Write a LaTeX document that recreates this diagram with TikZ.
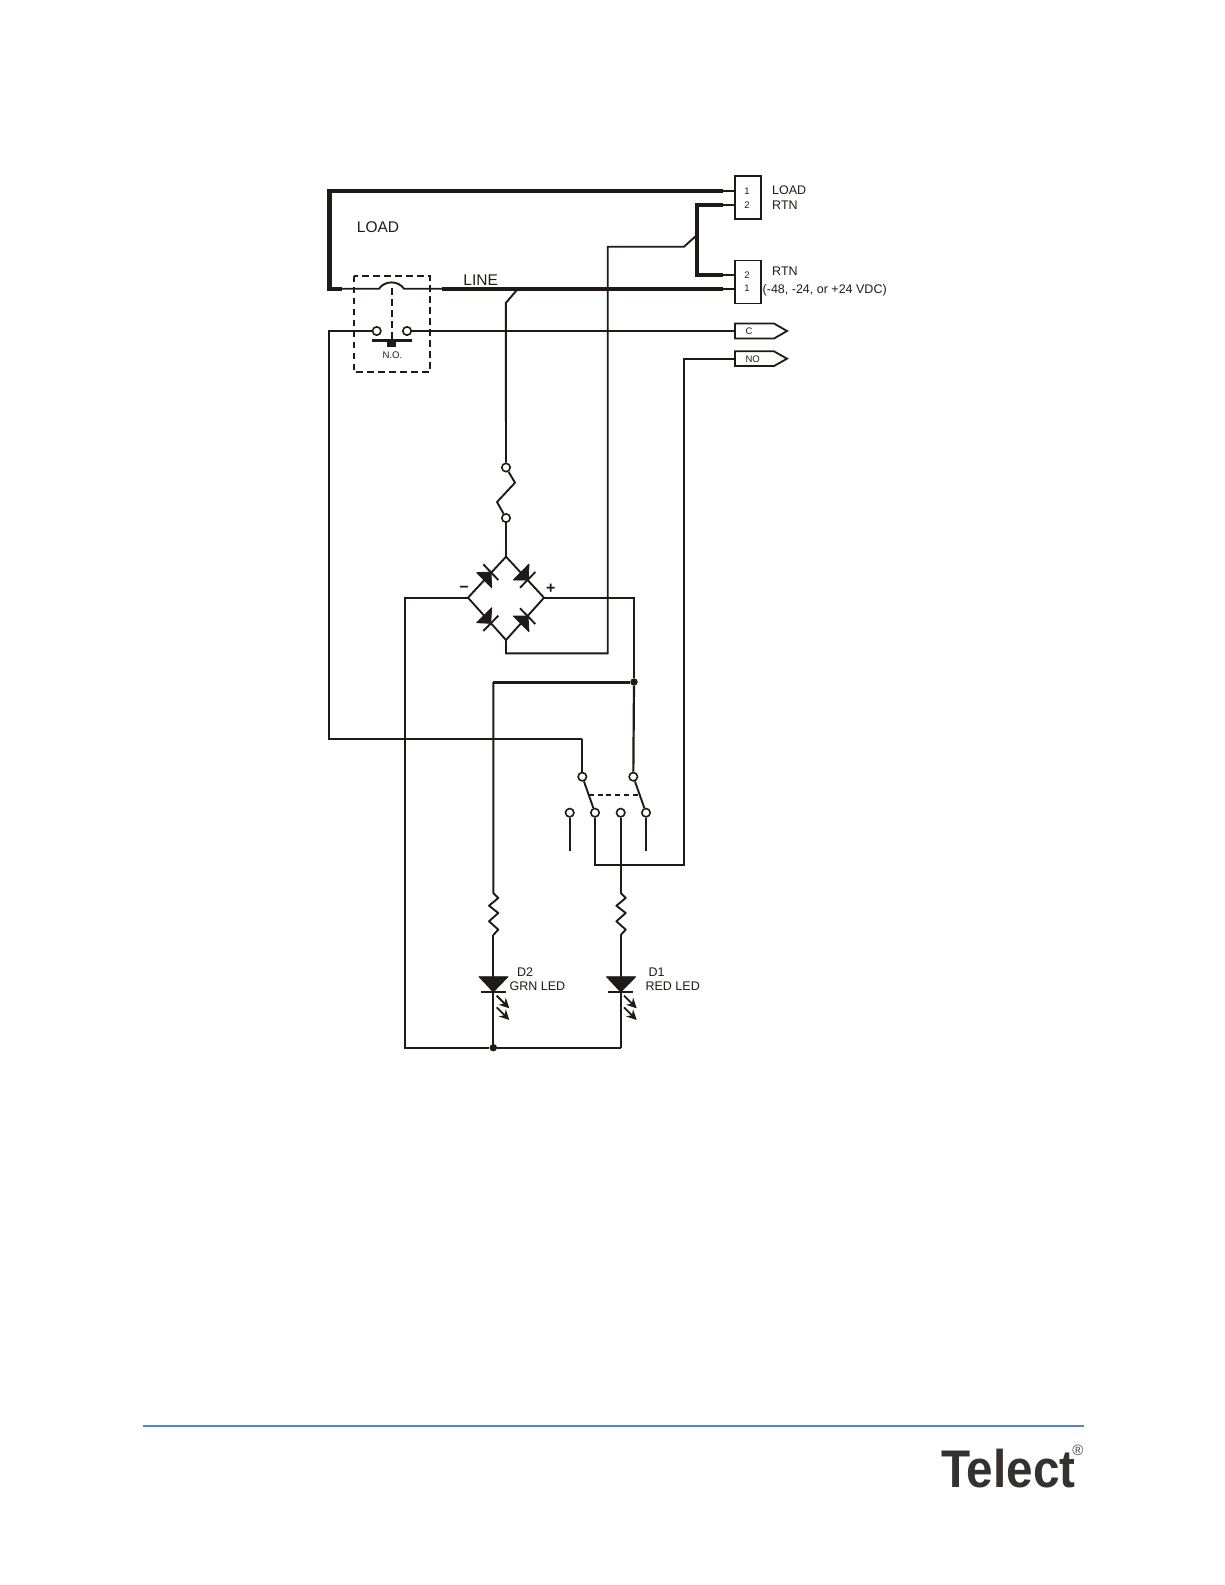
\documentclass[tikz,border=0pt]{standalone}
\usepackage{fontspec}
\setmainfont{Liberation Sans}
\usetikzlibrary{arrows.meta,calc}
\definecolor{ink}{HTML}{1F1A17}
\definecolor{rule}{HTML}{5B82C4}
\tikzset{
  wire/.style={draw=ink,line width=1.9pt,line join=miter},
  midwire/.style={draw=ink,line width=2.2pt,line join=miter},
  heavy/.style={draw=ink,line width=4.4pt,line join=miter},
  heavier/.style={draw=ink,line width=3pt},
  terminal/.style={circle,draw=ink,line width=1.6pt,fill=white,minimum size=8.4pt,inner sep=0pt},
  txt/.style={text=ink,inner sep=0pt,font=\fontsize{12.5}{14}\selectfont},
  big/.style={text=ink,inner sep=0pt,font=\fontsize{15.5}{18}\selectfont},
  tiny/.style={text=ink,inner sep=0pt,font=\fontsize{9.5}{11}\selectfont},
  conn/.style={draw=ink,line width=1.8pt,fill=white,minimum width=26pt,minimum height=43pt,inner sep=0pt},
  dashbox/.style={draw=ink,line width=1.7pt,dash pattern=on 6.5pt off 4.5pt},
  dot/.style={circle,fill=ink,minimum size=7.5pt,inner sep=0pt},
  diode/.style={fill=ink,draw=ink,line width=.8pt,line join=round},
  ledarrow/.style={draw=ink,line width=1.8pt,-{Stealth[length=10pt,width=10pt]}}
}
\begin{document}
\begin{tikzpicture}[x=1pt,y=-1pt]
\useasboundingbox (0,0) rectangle (1225,1585);
% named points
\coordinate (tl) at (329.5,190.7);
\coordinate (tr) at (723,190.7);
\coordinate (tre) at (735,190.7);
\coordinate (bl) at (329.5,288.7);
\coordinate (blt) at (342,288.7);
\coordinate (arcL) at (379,288.7);
\coordinate (arcR) at (404,288.7);
\coordinate (lineS) at (442,288.7);
\coordinate (lineE) at (723,288.7);
\coordinate (lineEE) at (735,288.7);
\coordinate (rtnA) at (697,205);
\coordinate (rtnAe) at (723,205);
\coordinate (rtnAee) at (735,205);
\coordinate (rtnB) at (697,275);
\coordinate (rtnBe) at (723,275);
\coordinate (rtnBee) at (735,275);
\coordinate (tapA) at (697,235);
\coordinate (tapB) at (684,246.7);
\coordinate (tapC) at (607.7,246.7);
\coordinate (tapD) at (607.7,653.3);
\coordinate (tapE) at (506,653.3);
\coordinate (ltapA) at (518,288.7);
\coordinate (ltapB) at (505.8,303);
\coordinate (brT) at (506,556.7);
\coordinate (brL) at (468,597.7);
\coordinate (brR) at (544,597.7);
\coordinate (brB) at (506,640);
\coordinate (negA) at (404.7,597.7);
\coordinate (negB) at (404.7,1047.7);
\coordinate (posA) at (634,597.7);
\coordinate (swL) at (329,331);
\coordinate (swLb) at (329,739);
\coordinate (swLc) at (582.3,739);
\coordinate (cEnd) at (735,331);
\coordinate (noEnd) at (735,359);
\coordinate (noA) at (684,359);
\coordinate (noB) at (684,865);
\coordinate (noC) at (595,865);
\coordinate (grnTop) at (493.3,682);
\coordinate (grnR1) at (493.3,893);
\coordinate (grnR2) at (493.3,935);
\coordinate (grnK) at (493.3,992);
\coordinate (redR1) at (620.7,893);
\coordinate (redR2) at (620.7,935);
\coordinate (redK) at (620.7,992);
\coordinate (redB) at (620.7,1047.7);
\coordinate (stubA) at (569.7,850.7);
\coordinate (stubB) at (646,850.7);
\coordinate (gangL) at (589,795);
\coordinate (gangR) at (640,795);
\coordinate (fuse1) at (515,482.7);
\coordinate (fuse2) at (497,502);
% heavy wiring
\draw[heavy,line cap=butt] (tr) -- (tl) -- (bl) -- (blt);
\draw[heavy] (lineS) -- (lineE);
\draw[heavy] (rtnAe) -- (rtnA) -- (rtnB) -- (rtnBe);
% thin ends to connectors
\draw[wire] (tr) -- (tre);
\draw[wire] (lineE) -- (lineEE);
\draw[wire] (rtnAe) -- (rtnAee);
\draw[wire] (rtnBe) -- (rtnBee);
\draw[wire] (blt) -- (arcL) .. controls (385,280.3) and (398,280.3) .. (arcR) -- (lineS);
% taps
\draw[wire] (tapA) -- (tapB) -- (tapC) -- (tapD) -- (tapE) -- (brB);
% bridge
\draw[wire] (brT) -- (brR) -- (brB) -- (brL) -- cycle;
\node[dot] (jGrn) at (634,682) {};
\node[dot] (jBot) at (493.3,1047.7) {};
\draw[wire] (brL) -- (negA) -- (negB) -- (jBot);
\draw[midwire] (jBot) -- (redB);
\draw[midwire] (brR) -- (posA) -- (jGrn);
\draw[heavier] (jGrn) -- (grnTop);
% terminals
\node[terminal] (f1) at (506,467.5) {};
\node[terminal] (f2) at (506,518) {};
\draw[wire] (ltapA) -- (ltapB) -- (f1);
\draw[wire,line join=round] (f1) -- (fuse1) -- (fuse2) -- (f2);
\draw[wire] (f2) -- (brT);
\node[terminal] (no1) at (376.7,331) {};
\node[terminal] (no2) at (407,331) {};
\draw[wire] (no1) -- (swL) -- (swLb) -- (swLc);
\node[terminal] (p1) at (582.3,776.7) {};
\node[terminal] (p2) at (633.3,776.7) {};
\node[terminal] (t1) at (569.7,812.7) {};
\node[terminal] (t2) at (595,812.7) {};
\node[terminal] (t3) at (620.7,812.7) {};
\node[terminal] (t4) at (646,812.7) {};
\draw[wire] (swLc) -- (p1);
\draw[midwire] (jGrn) -- (p2);
\draw[wire] (p1) -- (t2);
\draw[wire] (p2) -- (t4);
\draw[wire] (t1) -- (stubA);
\draw[wire] (t4) -- (stubB);
\draw[wire] (t2) -- (noC) -- (noB) -- (noA) -- (noEnd);
\draw[wire] (t3) -- (redR1);
\draw[wire,dash pattern=on 5pt off 3.7pt] (gangL) -- (gangR);
\draw[wire] (no2) -- (cEnd);
% relay box
\draw[dashbox] (353.7,275.7) rectangle (430,372);
\draw[dashbox] (392,288) -- (392,340);
\draw[draw=ink,line width=2.6pt] (371.7,340.3) -- (411.7,340.3);
\fill[ink] (387,340) rectangle (396,346.5);
\node[tiny,font=\fontsize{9.6}{11}\selectfont] (nolab) at (392.5,355) {N.O.};
% bridge diodes
\filldraw[diode] (476.7,572.7) -- (491.7,587.7) -- (491,572) -- cycle;
\draw[wire] (483.3,564.3) -- (498.3,580);
\filldraw[diode] (513.3,580) -- (529,564) -- (528.3,580) -- cycle;
\draw[wire] (520,587.7) -- (535.3,572);
\filldraw[diode] (476.7,622.7) -- (491.7,607.7) -- (490.7,623.3) -- cycle;
\draw[wire] (483.3,631) -- (498.3,615.7);
\filldraw[diode] (513.3,616) -- (529,631.7) -- (528,616) -- cycle;
\draw[wire] (520,608.3) -- (535.3,624);
\node[text=ink,inner sep=0pt,font=\bfseries\fontsize{16}{18}\selectfont] (minus) at (464,589) {−};
\node[text=ink,inner sep=0pt,font=\bfseries\fontsize{16}{18}\selectfont] (plus) at (550.7,589) {+};
% resistors
\draw[wire,line join=round] (grnTop) -- (grnR1) -- ++(5,5) -- ++(-9.3,7.7) -- ++(9.3,7.3) -- ++(-9.3,8.3) -- ++(9.3,8.3) -- (grnR2);
\draw[wire,line join=round] (redR1) -- ++(5,5) -- ++(-9.3,7.7) -- ++(9.3,7.3) -- ++(-9.3,8.3) -- ++(9.3,8.3) -- (redR2);
% LEDs
\draw[wire] (grnR2) -- (grnK);
\draw[midwire] (redR2) -- (redK);
\filldraw[diode] (479,976.7) -- (508,976.7) -- (grnK) -- cycle;
\filldraw[diode] (606.5,976.7) -- (635.7,976.7) -- (redK) -- cycle;
\draw[draw=ink,line width=2pt] (481,992) -- (506,992);
\draw[draw=ink,line width=2pt] (608.3,992) -- (633.3,992);
\draw[wire] (grnK) -- (jBot);
\draw[midwire] (redK) -- (redB);
\draw[ledarrow] (496.7,995.7) -- (509.3,1008.3);
\draw[ledarrow] (496.7,1007.3) -- (509.3,1020);
\draw[ledarrow] (624,995.7) -- (636.7,1008.3);
\draw[ledarrow] (624,1007.3) -- (636.7,1020);
% connectors
\node[conn] (conA) at (748,197.5) {};
\node[conn] (conB) at (748,282) {};
\node[tiny] (n1a) at (747,191) {1};
\node[tiny] (n2a) at (747,205) {2};
\node[tiny] (n2b) at (747,275) {2};
\node[tiny] (n1b) at (747,288.7) {1};
% tags
\draw[draw=ink,line width=1.8pt,fill=white] (735,323.5) -- (774,323.5) -- (787,331) -- (774,338.5) -- (735,338.5) -- cycle;
\draw[draw=ink,line width=1.8pt,fill=white] (735,351.3) -- (774,351.3) -- (787,358.7) -- (774,366) -- (735,366) -- cycle;
\node[tiny] (tagC) at (749,331) {C};
\node[tiny] (tagNO) at (752.7,359) {NO};
% labels
\node[big] (lLoad) at (378,227) {LOAD};
\node[big] (lLine) at (480.7,279.7) {LINE};
\node[txt,anchor=west] (rLoad) at (772,190.5) {LOAD};
\node[txt,anchor=west] (rRtnA) at (772,205) {RTN};
\node[txt,anchor=west] (rRtnB) at (772,270.7) {RTN};
\node[txt,anchor=west] (rVdc) at (762.5,289.8) {(-48, -24, or +24 VDC)};
\node[txt] (lD2) at (525,972.3) {D2};
\node[txt] (lGrn) at (537.5,986) {GRN LED};
\node[txt] (lD1) at (656.7,972.3) {D1};
\node[txt] (lRed) at (672.7,986) {RED LED};
% footer
\draw[draw=rule,line width=1.8pt] (142.5,1425.7) -- (1084,1425.7);
\node[text=ink!90,inner sep=0pt,anchor=base west,xscale=.9,font=\bfseries\fontsize{53}{60}\selectfont] (logo) at (941,1487) {Telect};
\node[text=ink!80,inner sep=0pt,font=\fontsize{15}{16}\selectfont] (reg) at (1078,1450) {®};
\end{tikzpicture}
\end{document}
